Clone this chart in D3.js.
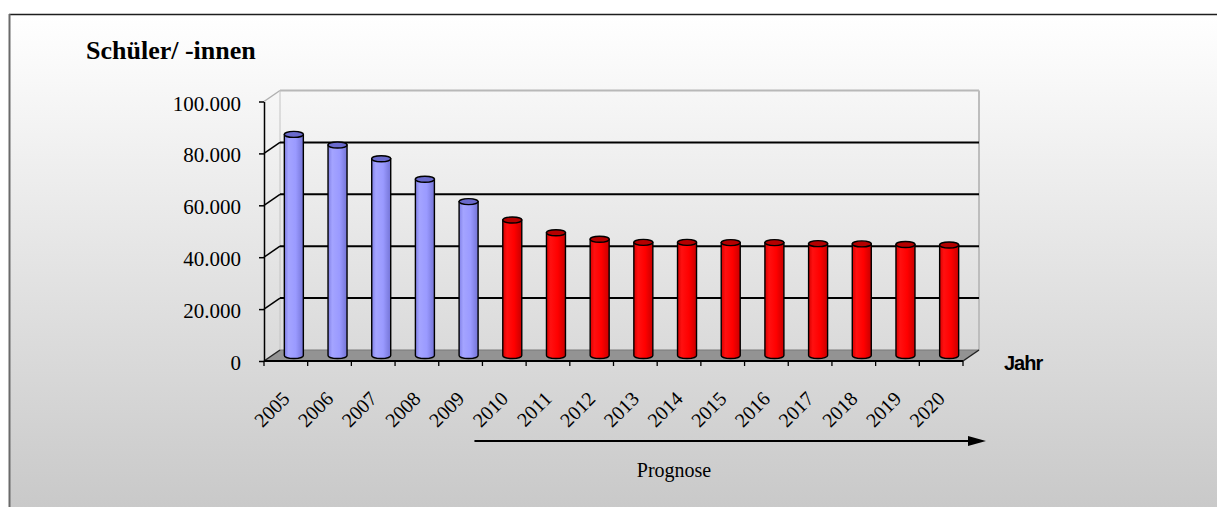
<!DOCTYPE html>
<html>
<head>
<meta charset="utf-8">
<script src="https://cdn.jsdelivr.net/npm/d3@7"></script>
<style>
  html, body { margin: 0; padding: 0; background: #ffffff; }
  svg { display: block; }
</style>
</head>
<body>
<svg id="chart" width="1217" height="507"></svg>
<script>
// ---- data ----
const years = ["2005","2006","2007","2008","2009","2010","2011","2012","2013","2014","2015","2016","2017","2018","2019","2020"];
const pupils = [85200, 81100, 75800, 67900, 59300, 52200, 47300, 44800, 43600, 43600, 43500, 43500, 43100, 43000, 42800, 42600];
const isForecast = [false, false, false, false, false, true, true, true, true, true, true, true, true, true, true, true];
const yTicks = [0, 20000, 40000, 60000, 80000, 100000];
const titleText = "Schüler/ -innen";
const xAxisTitle = "Jahr";
const forecastLabel = "Prognose";

// ---- setup ----
const W = 1217, H = 507;
const svg = d3.select("#chart");
const defs = svg.append("defs");

const bg = defs.append("linearGradient").attr("id", "bg").attr("x1", 0).attr("y1", 0).attr("x2", 0).attr("y2", 1);
bg.append("stop").attr("offset", "0%").attr("stop-color", "#ffffff");
bg.append("stop").attr("offset", "8%").attr("stop-color", "#fbfbfb");
bg.append("stop").attr("offset", "100%").attr("stop-color", "#c9c9c9");

function cylGrad(id, stops) {
  const g = defs.append("linearGradient").attr("id", id).attr("x1", 0).attr("y1", 0).attr("x2", 1).attr("y2", 0);
  stops.forEach(s => g.append("stop").attr("offset", s[0]).attr("stop-color", s[1]));
}
cylGrad("gBlue", [["0%", "#7f7fe6"], ["22%", "#a4a4ff"], ["60%", "#9a9aff"], ["100%", "#7474d6"]]);
cylGrad("gRed", [["0%", "#d80000"], ["22%", "#ff1010"], ["60%", "#ff0000"], ["100%", "#c80000"]]);

// frame / background
svg.append("rect").attr("x", 9).attr("y", 14).attr("width", W - 9).attr("height", H - 14).attr("fill", "url(#bg)");
svg.append("line").attr("x1", 9).attr("x2", W).attr("y1", 14.5).attr("y2", 14.5).attr("stroke", "#1e1e1e").attr("stroke-width", 1.5);
svg.append("line").attr("x1", 9.5).attr("x2", 9.5).attr("y1", 14).attr("y2", H).attr("stroke", "#6a6a6a").attr("stroke-width", 2);

// scales
const x = d3.scaleBand().domain(years).range([264, 963]).padding(0);
const y = d3.scaleLinear().domain([0, 100000]).range([361, 101.5]);
const DX = 16, DY = -11; // depth offset to back wall
const bw = x.bandwidth();

// title
svg.append("text").attr("x", 86).attr("y", 59)
  .attr("font-family", "Liberation Serif, Times New Roman, serif")
  .attr("font-weight", "bold").attr("font-size", 26).attr("fill", "#000")
  .text(titleText);

const wall = svg.append("g");
// back wall edges (light gray)
wall.append("line").attr("x1", 264).attr("y1", y(100000)).attr("x2", 264 + DX).attr("y2", y(100000) + DY).attr("stroke", "#b0b0b0").attr("stroke-width", 1.5);
wall.append("line").attr("x1", 264 + DX).attr("y1", y(100000) + DY).attr("x2", 963 + DX).attr("y2", y(100000) + DY).attr("stroke", "#b8b8b8").attr("stroke-width", 2);
wall.append("line").attr("x1", 264 + DX).attr("y1", y(100000) + DY).attr("x2", 264 + DX).attr("y2", y(0) + DY).attr("stroke", "#c4c4c4").attr("stroke-width", 1);
wall.append("line").attr("x1", 963 + DX).attr("y1", y(100000) + DY).attr("x2", 963 + DX).attr("y2", y(0) + DY).attr("stroke", "#bdbdbd").attr("stroke-width", 2);

// gridlines on back wall + side connectors
const gridVals = yTicks.filter(v => v > 0 && v < 100000);
wall.selectAll(".grid").data(gridVals).enter().append("line")
  .attr("x1", 264 + DX).attr("x2", 963 + DX)
  .attr("y1", d => y(d) + DY).attr("y2", d => y(d) + DY)
  .attr("stroke", "#000").attr("stroke-width", 2);
wall.selectAll(".side").data(gridVals).enter().append("line")
  .attr("x1", 264).attr("x2", 264 + DX)
  .attr("y1", d => y(d)).attr("y2", d => y(d) + DY)
  .attr("stroke", "#000").attr("stroke-width", 1.5);

// floor
const fy = y(0);
wall.append("path")
  .attr("d", `M264,${fy} L963,${fy} L${963 + DX},${fy + DY} L${264 + DX},${fy + DY} Z`)
  .attr("fill", "#939393").attr("stroke", "none");
wall.append("line").attr("x1", 264 + DX).attr("x2", 963 + DX).attr("y1", fy + DY).attr("y2", fy + DY).attr("stroke", "#7a7a7a").attr("stroke-width", 1);
wall.append("line").attr("x1", 963).attr("y1", fy).attr("x2", 963 + DX).attr("y2", fy + DY).attr("stroke", "#222").attr("stroke-width", 1.5);
wall.append("line").attr("x1", 264).attr("y1", fy).attr("x2", 264 + DX).attr("y2", fy + DY).attr("stroke", "#222").attr("stroke-width", 1.5);

// cylinders
const rx = 9.5, ry = 3;
const bars = svg.append("g");
years.forEach((yr, i) => {
  const cx = x(yr) + bw / 2 + DX / 2;
  const base = y(0) + DY / 2;
  const top = y(pupils[i]) + DY / 2;
  const fore = isForecast[i];
  bars.append("path")
    .attr("d", `M${cx - rx},${top} L${cx - rx},${base} A${rx},${ry} 0 0 0 ${cx + rx},${base} L${cx + rx},${top} Z`)
    .attr("fill", fore ? "url(#gRed)" : "url(#gBlue)")
    .attr("stroke", "#000").attr("stroke-width", 1.4);
  bars.append("ellipse").attr("cx", cx).attr("cy", top).attr("rx", rx).attr("ry", ry)
    .attr("fill", fore ? "#b40000" : "#6a6acc")
    .attr("stroke", "#000").attr("stroke-width", 1.4);
});

// y axis
const deFormat = d3.formatLocale({ decimal: ",", thousands: ".", grouping: [3], currency: ["", " €"] }).format(",");
const yAxis = svg.append("g").attr("transform", "translate(264,0)")
  .call(d3.axisLeft(y).tickValues(yTicks).tickSize(5).tickSizeOuter(0).tickPadding(0).tickFormat(deFormat));
yAxis.select(".domain").attr("stroke", "#000").attr("stroke-width", 1.5);
yAxis.selectAll(".tick line").attr("stroke", "#000").attr("stroke-width", 1.5);
yAxis.selectAll(".tick text")
  .attr("x", -23).attr("dy", null).attr("y", 8.5)
  .attr("font-family", "Liberation Serif, Times New Roman, serif")
  .attr("font-size", 21).attr("fill", "#000");

// x axis: front edge, ticks at band boundaries, rotated labels
svg.append("line").attr("x1", 264).attr("x2", 963).attr("y1", fy).attr("y2", fy).attr("stroke", "#000").attr("stroke-width", 2);
const bounds = years.map(d => x(d)).concat([x(years[years.length - 1]) + bw]);
svg.selectAll(".xtick").data(bounds).enter().append("line")
  .attr("x1", d => d).attr("x2", d => d).attr("y1", fy).attr("y2", fy + 5)
  .attr("stroke", "#000").attr("stroke-width", 1.3);
svg.selectAll(".xlab").data(years).enter().append("text")
  .attr("transform", d => `translate(${x(d) + bw / 2 + 5},400) rotate(-45)`)
  .attr("text-anchor", "end")
  .attr("font-family", "Liberation Serif, Times New Roman, serif")
  .attr("font-size", 20).attr("fill", "#000")
  .text(d => d);

// axis title
svg.append("text").attr("x", 1004).attr("y", 370)
  .attr("font-family", "Liberation Sans, Arial, sans-serif").attr("font-weight", "bold")
  .attr("font-size", 20).attr("letter-spacing", -1).attr("fill", "#000")
  .text(xAxisTitle);

// forecast arrow
const arrowStart = x("2010") - 8;
svg.append("line").attr("x1", arrowStart).attr("x2", 972).attr("y1", 441).attr("y2", 441).attr("stroke", "#000").attr("stroke-width", 2);
svg.append("path").attr("d", "M968,436 L986,441 L968,446 Z").attr("fill", "#000");
svg.append("text").attr("x", 674).attr("y", 477).attr("text-anchor", "middle")
  .attr("font-family", "Liberation Serif, Times New Roman, serif")
  .attr("font-size", 20).attr("fill", "#000")
  .text(forecastLabel);
</script>
</body>
</html>
